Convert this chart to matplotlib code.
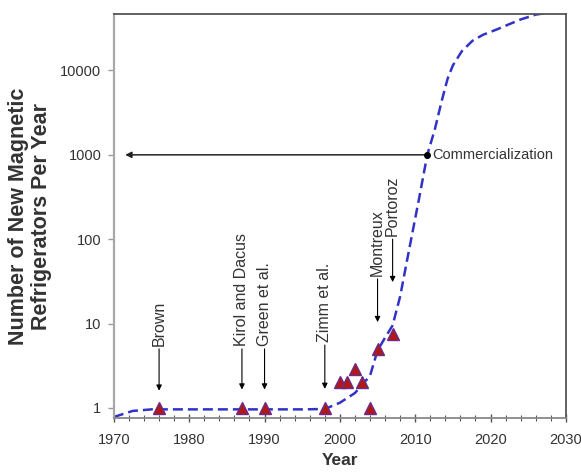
import matplotlib
matplotlib.use("Agg")
import matplotlib.pyplot as plt
from matplotlib.ticker import MultipleLocator, FixedLocator, NullLocator

plt.rcParams['font.family'] = ['Liberation Sans', 'DejaVu Sans']

# projected curve
curve_years = [1970, 1972.5, 1975, 1980, 1985, 1990, 1995, 1998, 2000, 2002,
               2004, 2005, 2006, 2007, 2008, 2009.2, 2010.5, 2011.6, 2012.6,
               2013.5, 2014.3, 2015.0, 2016.2, 2017.6, 2019.0, 2020.8, 2023.9,
               2026, 2030]
curve_values = [0.78, 0.92, 0.96, 0.96, 0.96, 0.96, 0.96, 0.97, 1.15, 1.5,
                2.4, 4.8, 6.8, 9.5, 21, 76, 300, 1000, 2000,
                4300, 8000, 11500, 17000, 22500, 26500, 30600, 40000,
                46000, 52000]

# built prototypes
proto_years = [1976, 1987, 1990, 1998, 2000, 2001, 2002, 2003, 2004, 2005, 2007]
proto_values = [1, 1, 1, 1, 2, 2, 2.9, 2, 1, 5, 7.5]

# labelled milestones: name, year, text bottom value, arrow tip value
milestone_names = ["Brown", "Kirol and Dacus", "Green et al.", "Zimm et al.",
                   "Montreux", "Portoroz"]
milestone_years = [1976, 1987, 1990, 1998, 2005, 2007]
milestone_text_y = [5.4, 5.4, 5.4, 6.0, 36.5, 108]
milestone_tip_y = [1.6, 1.65, 1.65, 1.68, 10.4, 31]

comm_year = 2011.6
comm_value = 1000
comm_arrow_end = 1971.5

fig = plt.figure(figsize=(5.81, 4.76), dpi=100)
ax = fig.add_axes([0.196, 0.122, 0.778, 0.849])

ax.plot(curve_years, curve_values, color='#3232c8', lw=1.8, dashes=(4, 2), zorder=2)
ax.plot(proto_years, proto_values, ls='none', marker='^', markersize=9,
        markerfacecolor='#b01818', markeredgecolor='#6a2a8a', markeredgewidth=1,
        zorder=3)

for name, yr, ty, tip in zip(milestone_names, milestone_years, milestone_text_y, milestone_tip_y):
    ax.annotate(name, xy=(yr, tip), xytext=(yr, ty), rotation=90,
                ha='center', va='bottom', fontsize=11.5, color='#333333',
                arrowprops=dict(arrowstyle='-|>', color='black', lw=0.8,
                                mutation_scale=8, shrinkA=0, shrinkB=0))

ax.annotate('', xy=(comm_arrow_end, comm_value), xytext=(comm_year, comm_value),
            arrowprops=dict(arrowstyle='-|>', color='#222222', lw=1.1,
                            mutation_scale=9, shrinkA=0, shrinkB=0))
ax.plot([comm_year], [comm_value], 'o', color='black', markersize=4, zorder=4)
ax.text(comm_year + 0.6, comm_value, 'Commercialization', fontsize=10.5,
        va='center', ha='left', color='#333333')

ax.set_yscale('log')
ax.set_xlim(1970, 2030)
ax.set_ylim(0.76, 47000)

ax.xaxis.set_major_locator(MultipleLocator(10))
ax.xaxis.set_minor_locator(MultipleLocator(2))
ax.yaxis.set_major_locator(FixedLocator([1, 10, 100, 1000, 10000]))
ax.yaxis.set_minor_locator(NullLocator())
ax.set_yticklabels(['1', '10', '100', '1000', '10000'])

ax.tick_params(axis='x', which='major', direction='inout', length=6, width=1,
               color='#555555', labelsize=10.5, pad=8, labelcolor='#333333')
ax.tick_params(axis='x', which='minor', direction='inout', length=4, width=0.8,
               color='#555555')
ax.tick_params(axis='y', which='major', direction='out', length=4, width=1,
               color='#999999', labelsize=10.5, pad=5, labelcolor='#333333')

ax.spines['left'].set_color('#a8a8a8')
ax.spines['left'].set_linewidth(1.6)
ax.spines['bottom'].set_color('#888888')
ax.spines['bottom'].set_linewidth(1.3)
for side in ['top', 'right']:
    ax.spines[side].set_color('#555555')
    ax.spines[side].set_linewidth(1.3)

ax.set_xlabel('Year', fontsize=12.5, fontweight='bold', color='#333333', labelpad=4)
fig.text(0.052, 0.545, 'Number of New Magnetic\nRefrigerators Per Year',
         rotation=90, ha='center', va='center', fontsize=15.5,
         fontweight='bold', color='#333333', linespacing=1.1)

fig.savefig('out.png', dpi=100)
